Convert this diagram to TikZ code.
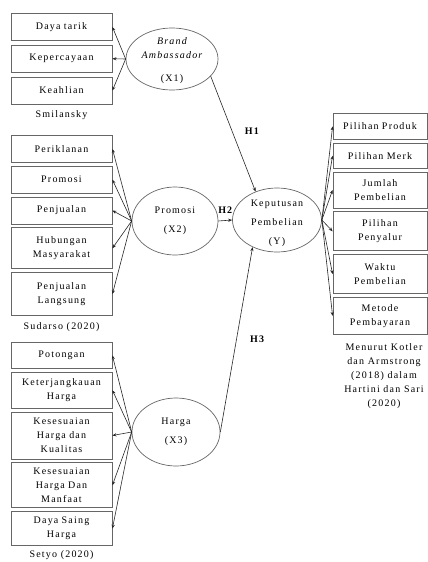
\documentclass[tikz,border=0pt]{standalone}
\usepackage{fontspec}
\setmainfont{Liberation Serif}[LetterSpace=12]
\usetikzlibrary{shapes.geometric, arrows.meta, positioning}

\tikzset{
  ind/.style={rectangle, draw=black!60, line width=0.8pt, text width=95pt,
              inner sep=3pt, align=center, font=\fontsize{10}{14}\selectfont},
  indR/.style={ind, text width=88pt},
  var/.style={ellipse, draw=black!60, line width=0.7pt, inner sep=0pt},
  vtext/.style={align=center, font=\fontsize{10}{19}\selectfont},
  src/.style={align=center, font=\fontsize{10}{14}\selectfont},
  hyp/.style={font=\fontsize{10}{12}\selectfont\bfseries},
  arr/.style={-{Stealth[length=4pt,width=3.2pt]}, line width=0.6pt, draw=black!85},
}

\begin{document}
\begin{tikzpicture}[x=1pt, y=-1pt, node distance=3pt]
  \useasboundingbox (0,0) rectangle (428,562);

  %% -- X1: Brand Ambassador -------------------------------------------
  \node[ind, minimum height=27pt, anchor=north] (bDaya) at (61.5,13) {Daya tarik};
  \node[ind, minimum height=27pt, below=4pt of bDaya]   (bPercaya) {Kepercayaan};
  \node[ind, minimum height=27pt, below=4pt of bPercaya] (bAhli)   {Keahlian};
  \node[src] (srcX1) at (61.5,115) {Smilansky};

  \node[var, minimum width=92pt, minimum height=62pt] (X1) at (172,59) {};
  \node[vtext, font=\fontsize{10}{14}\selectfont] (X1txt) at ([yshift=-2pt]X1.center)
       {\itshape Brand\\\itshape Ambassador\\[9pt](X1)};

  %% -- X2: Promosi ---------------------------------------------------
  \node[ind, minimum height=27pt, anchor=north] (pIklan) at (61.5,135) {Periklanan};
  \node[ind, minimum height=27pt, below=of pIklan]  (pPromo)  {Promosi};
  \node[ind, minimum height=27pt, below=of pPromo]  (pJual)   {Penjualan};
  \node[ind, minimum height=41pt, below=of pJual]   (pHumas)  {Hubungan\\Masyarakat};
  \node[ind, minimum height=43pt, below=of pHumas]  (pLangsung) {Penjualan\\Langsung};
  \node[src] (srcX2) at (61.5,327) {Sudarso (2020)};

  \node[var, minimum width=86pt, minimum height=68pt] (X2) at (175,221) {};
  \node[vtext] (X2txt) at (X2.center) {Promosi\\(X2)};

  %% -- X3: Harga -----------------------------------------------------
  \node[ind, minimum height=26pt, anchor=north] (hPotong) at (61.5,342) {Potongan};
  \node[ind, minimum height=36pt, below=of hPotong] (hJangkau) {Keterjangkauan\\Harga};
  \node[ind, minimum height=47pt, below=of hJangkau] (hKualitas) {Kesesuaian\\Harga dan\\Kualitas};
  \node[ind, minimum height=45pt, below=of hKualitas] (hManfaat) {Kesesuaian\\Harga Dan\\Manfaat};
  \node[ind, minimum height=34pt, below=of hManfaat] (hSaing) {Daya Saing\\Harga};
  \node[src] (srcX3) at (61.5,555) {Setyo (2020)};

  \node[var, minimum width=88pt, minimum height=68pt] (X3) at (176,432) {};
  \node[vtext] (X3txt) at (X3.center) {Harga\\(X3)};

  %% -- Y: Keputusan Pembelian ----------------------------------------
  \node[var, minimum width=89pt, minimum height=64pt] (Y) at (277,220) {};
  \node[vtext] (Ytxt) at ([yshift=-3pt]Y.center) {Keputusan\\Pembelian\\(Y)};

  \node[indR, minimum height=26pt, anchor=north] (yProduk) at (380,113) {Pilihan Produk};
  \node[indR, minimum height=25pt, below=of yProduk] (yMerk)   {Pilihan Merk};
  \node[indR, minimum height=36pt, below=of yMerk]   (yJumlah) {Jumlah\\Pembelian};
  \node[indR, minimum height=39pt, below=of yJumlah] (ySalur)  {Pilihan\\Penyalur};
  \node[indR, minimum height=39pt, below=of ySalur]  (yWaktu)  {Waktu\\Pembelian};
  \node[indR, minimum height=37pt, below=of yWaktu]  (yBayar)  {Metode\\Pembayaran};
  \node[src] (srcY) at (384,376) {Menurut Kotler\\dan Armstrong\\(2018) dalam\\Hartini dan Sari\\(2020)};

  %% -- indicator arrows ----------------------------------------------
  \foreach \b in {bDaya, bPercaya, bAhli}
    \draw[arr] (X1.west) -- (\b.east);
  \foreach \b in {pIklan, pPromo, pJual, pHumas, pLangsung}
    \draw[arr] (X2.west) -- (\b.east);
  \foreach \b in {hPotong, hJangkau, hKualitas, hManfaat, hSaing}
    \draw[arr] (X3.west) -- (\b.east);
  \foreach \b in {yProduk, yMerk, yJumlah, ySalur, yWaktu, yBayar}
    \draw[arr] (Y.east) -- (\b.west);

  %% -- hypotheses ----------------------------------------------------
  \draw[arr] (X1.-24) -- node[hyp, pos=0.48, right=9pt] {H1} (Y.127);
  \draw[arr] (X2.east) -- node[hyp, above=3pt] {H2} (Y.west);
  \draw[arr] (X3.east) -- node[hyp, pos=0.5, right=10pt] {H3} (Y.-132);

\end{tikzpicture}
\end{document}
